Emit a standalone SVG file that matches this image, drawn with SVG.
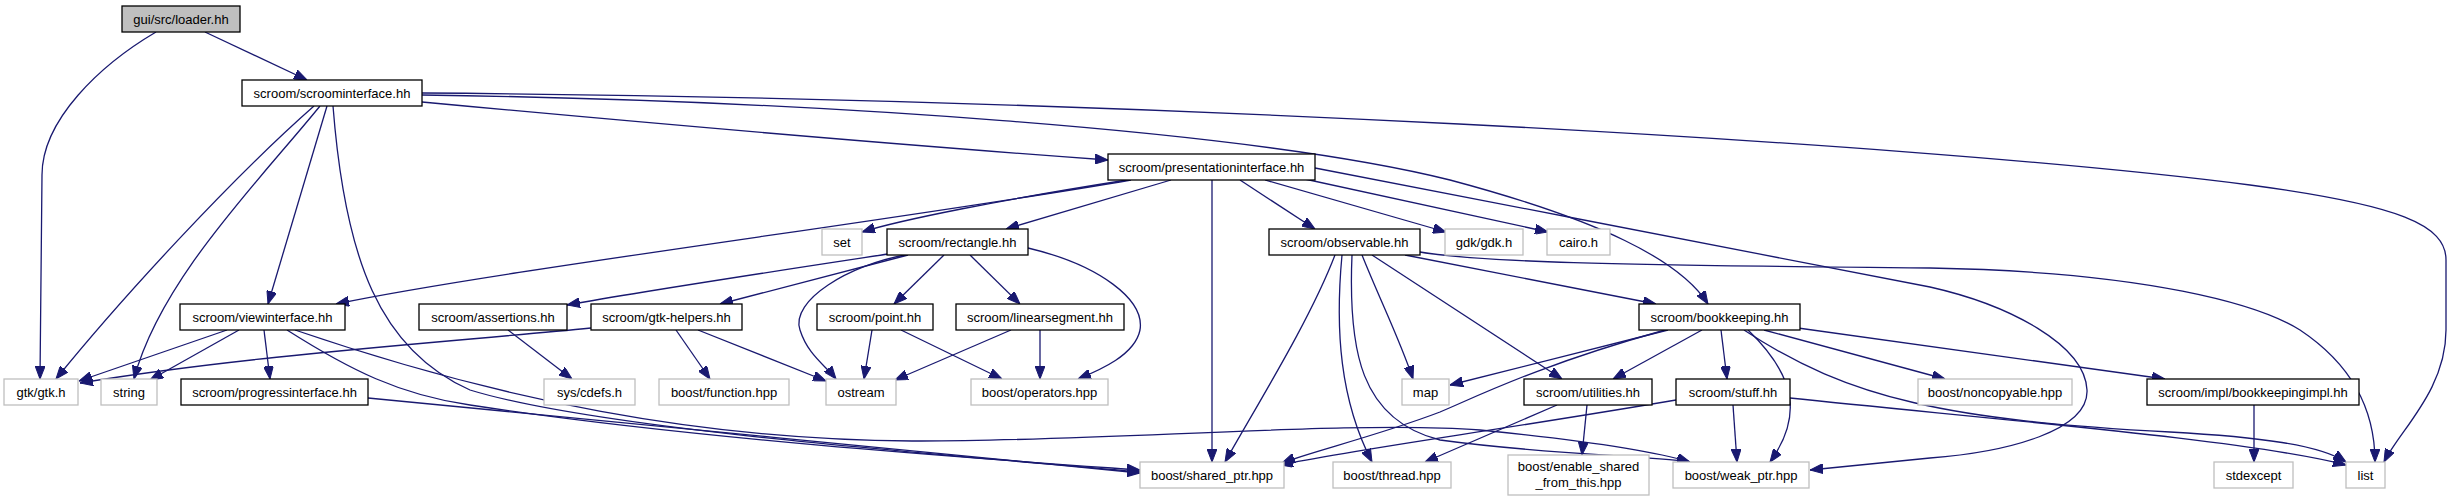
<svg xmlns="http://www.w3.org/2000/svg" width="2452" height="501" viewBox="0 0 2452 501">
<style>
.bg{fill:#fff}
.n rect{fill:#fff;stroke:#000;stroke-width:1.3}
.g rect{fill:#fff;stroke:#bfbfbf;stroke-width:1.3}
.r rect{fill:#bfbfbf;stroke:#000;stroke-width:1.3}
text{font-family:"Liberation Sans",Arial,sans-serif;font-size:13px;text-anchor:middle;fill:#000}
#edges path{fill:none;stroke:#191970;stroke-width:1.3;marker-end:url(#a)}
</style>
<defs>
<marker id="a" viewBox="0 0 13 10" refX="13" refY="5" markerWidth="13" markerHeight="10" markerUnits="userSpaceOnUse" orient="auto">
<path d="M0,0 L13,5 L0,10 z" fill="#191970" stroke="#191970" stroke-width="1"/>
</marker>
</defs>
<rect class="bg" x="0" y="0" width="2452" height="501"/>
<g id="edges">
<path d="M205,32 L307,80"/>
<path d="M156,32 C100,65 42,120 42,175 L40,379"/>
<path d="M314,106 C230,180 120,300 56,379"/>
<path d="M320,106 C260,180 160,280 134,379"/>
<path d="M327,106 L268,304"/>
<path d="M333,106 C345,260 380,350 470,390 C600,430 950,455 1140,472"/>
<path d="M422,102 C700,128 900,145 1108,160"/>
<path d="M422,95 C800,100 1250,130 1450,180 C1600,220 1680,260 1708,304"/>
<path d="M422,93 C1100,98 1900,140 2250,185 C2400,205 2446,225 2446,260 L2446,330 C2446,390 2400,430 2384,462"/>
<path d="M1131,180 C900,220 500,270 336,304"/>
<path d="M1127,180 C1000,200 900,220 862,232"/>
<path d="M1171,180 L1006,229"/>
<path d="M1212,180 L1212,462"/>
<path d="M1240,180 L1315,229"/>
<path d="M1265,180 L1446,232"/>
<path d="M1300,178 L1548,232"/>
<path d="M1315,168 C1500,205 1800,260 1930,287 C2010,305 2085,345 2087,390 C2089,430 2010,452 1930,458 L1810,470"/>
<path d="M227,330 L79,381"/>
<path d="M239,330 L150,380"/>
<path d="M264,330 L270,379"/>
<path d="M287,330 C350,370 400,395 470,405 C700,440 1000,460 1140,470"/>
<path d="M295,330 C500,400 700,440 912,441 C1100,442 1350,420 1480,430 C1580,440 1650,450 1690,462"/>
<path d="M368,398 C600,420 900,450 1140,473"/>
<path d="M888,254 C750,275 650,290 567,305"/>
<path d="M908,255 L720,304"/>
<path d="M944,255 L894,304"/>
<path d="M970,255 L1020,304"/>
<path d="M905,255 C850,265 790,300 800,330 C808,355 825,365 836,379"/>
<path d="M1028,248 C1100,265 1145,300 1140,330 C1135,355 1100,370 1078,379"/>
<path d="M591,328 C450,342 250,355 80,383"/>
<path d="M676,330 L710,379"/>
<path d="M698,330 L826,381"/>
<path d="M508,330 L572,379"/>
<path d="M872,330 L864,379"/>
<path d="M901,330 L1002,379"/>
<path d="M1011,330 L895,380"/>
<path d="M1040,330 L1040,379"/>
<path d="M1335,255 C1310,320 1260,400 1225,462"/>
<path d="M1342,255 C1335,330 1340,400 1372,462"/>
<path d="M1352,255 C1348,350 1360,420 1440,440 C1550,455 1640,455 1690,462"/>
<path d="M1362,255 C1380,300 1400,340 1413,379"/>
<path d="M1372,255 L1562,379"/>
<path d="M1405,255 L1656,304"/>
<path d="M1420,252 C1480,262 1600,265 1930,268 C2150,272 2260,305 2300,330 C2360,370 2375,420 2375,462"/>
<path d="M1668,330 L1450,385"/>
<path d="M1665,330 C1540,365 1480,395 1440,412 C1380,435 1310,452 1282,463"/>
<path d="M1702,330 L1613,379"/>
<path d="M1721,330 L1727,379"/>
<path d="M1748,330 C1800,380 1800,420 1770,462"/>
<path d="M1744,330 C1850,400 1950,420 2170,432 C2260,437 2320,445 2346,462"/>
<path d="M1764,330 L1945,379"/>
<path d="M1798,328 L2165,379"/>
<path d="M1557,405 L1425,462"/>
<path d="M1587,405 L1582,455"/>
<path d="M1676,400 C1500,430 1350,450 1280,465"/>
<path d="M1733,405 L1737,462"/>
<path d="M1790,398 C2000,420 2250,440 2346,465"/>
<path d="M2254,405 L2254,462"/>
</g>
<g id="loader" class="r"><rect x="122" y="6" width="118" height="26"/><text x="181" y="24">gui/src/loader.hh</text></g>
<g id="scroominterface" class="n"><rect x="242" y="80" width="180" height="26"/><text x="332" y="98">scroom/scroominterface.hh</text></g>
<g id="presentationinterface" class="n"><rect x="1108" y="154" width="207" height="26"/><text x="1211.5" y="172">scroom/presentationinterface.hh</text></g>
<g id="set" class="g"><rect x="822" y="229" width="40" height="26"/><text x="842" y="247">set</text></g>
<g id="rectangle" class="n"><rect x="887" y="229" width="141" height="26"/><text x="957.5" y="247">scroom/rectangle.hh</text></g>
<g id="observable" class="n"><rect x="1269" y="229" width="151" height="26"/><text x="1344.5" y="247">scroom/observable.hh</text></g>
<g id="gdk" class="g"><rect x="1445" y="229" width="78" height="26"/><text x="1484" y="247">gdk/gdk.h</text></g>
<g id="cairo" class="g"><rect x="1547" y="229" width="63" height="26"/><text x="1578.5" y="247">cairo.h</text></g>
<g id="viewinterface" class="n"><rect x="180" y="304" width="165" height="26"/><text x="262.5" y="322">scroom/viewinterface.hh</text></g>
<g id="assertions" class="n"><rect x="419" y="304" width="148" height="26"/><text x="493" y="322">scroom/assertions.hh</text></g>
<g id="gtkhelpers" class="n"><rect x="591" y="304" width="151" height="26"/><text x="666.5" y="322">scroom/gtk-helpers.hh</text></g>
<g id="point" class="n"><rect x="817" y="304" width="116" height="26"/><text x="875" y="322">scroom/point.hh</text></g>
<g id="linearsegment" class="n"><rect x="956" y="304" width="168" height="26"/><text x="1040" y="322">scroom/linearsegment.hh</text></g>
<g id="bookkeeping" class="n"><rect x="1639" y="304" width="161" height="26"/><text x="1719.5" y="322">scroom/bookkeeping.hh</text></g>
<g id="gtk" class="g"><rect x="4" y="379" width="74" height="26"/><text x="41" y="397">gtk/gtk.h</text></g>
<g id="string" class="g"><rect x="101" y="379" width="56" height="26"/><text x="129" y="397">string</text></g>
<g id="progressinterface" class="n"><rect x="181" y="379" width="187" height="26"/><text x="274.5" y="397">scroom/progressinterface.hh</text></g>
<g id="cdefs" class="g"><rect x="544" y="379" width="91" height="26"/><text x="589.5" y="397">sys/cdefs.h</text></g>
<g id="function" class="g"><rect x="659" y="379" width="130" height="26"/><text x="724" y="397">boost/function.hpp</text></g>
<g id="ostream" class="g"><rect x="826" y="379" width="70" height="26"/><text x="861" y="397">ostream</text></g>
<g id="operators" class="g"><rect x="971" y="379" width="137" height="26"/><text x="1039.5" y="397">boost/operators.hpp</text></g>
<g id="map" class="g"><rect x="1402" y="379" width="47" height="26"/><text x="1425.5" y="397">map</text></g>
<g id="utilities" class="n"><rect x="1524" y="379" width="128" height="26"/><text x="1588" y="397">scroom/utilities.hh</text></g>
<g id="stuff" class="n"><rect x="1676" y="379" width="114" height="26"/><text x="1733" y="397">scroom/stuff.hh</text></g>
<g id="noncopyable" class="g"><rect x="1918" y="379" width="154" height="26"/><text x="1995" y="397">boost/noncopyable.hpp</text></g>
<g id="bookkeepingimpl" class="n"><rect x="2147" y="379" width="212" height="26"/><text x="2253" y="397">scroom/impl/bookkeepingimpl.hh</text></g>
<g id="sharedptr" class="g"><rect x="1140" y="462" width="144" height="26"/><text x="1212" y="480">boost/shared_ptr.hpp</text></g>
<g id="thread" class="g"><rect x="1333" y="462" width="118" height="26"/><text x="1392" y="480">boost/thread.hpp</text></g>
<g id="enableshared" class="g"><rect x="1508" y="455" width="141" height="40"/><text x="1578.5" y="471">boost/enable_shared</text><text x="1578.5" y="487">_from_this.hpp</text></g>
<g id="weakptr" class="g"><rect x="1673" y="462" width="136" height="26"/><text x="1741" y="480">boost/weak_ptr.hpp</text></g>
<g id="stdexcept" class="g"><rect x="2214" y="462" width="79" height="26"/><text x="2253.5" y="480">stdexcept</text></g>
<g id="list" class="g"><rect x="2346" y="462" width="39" height="26"/><text x="2365.5" y="480">list</text></g>
</svg>
